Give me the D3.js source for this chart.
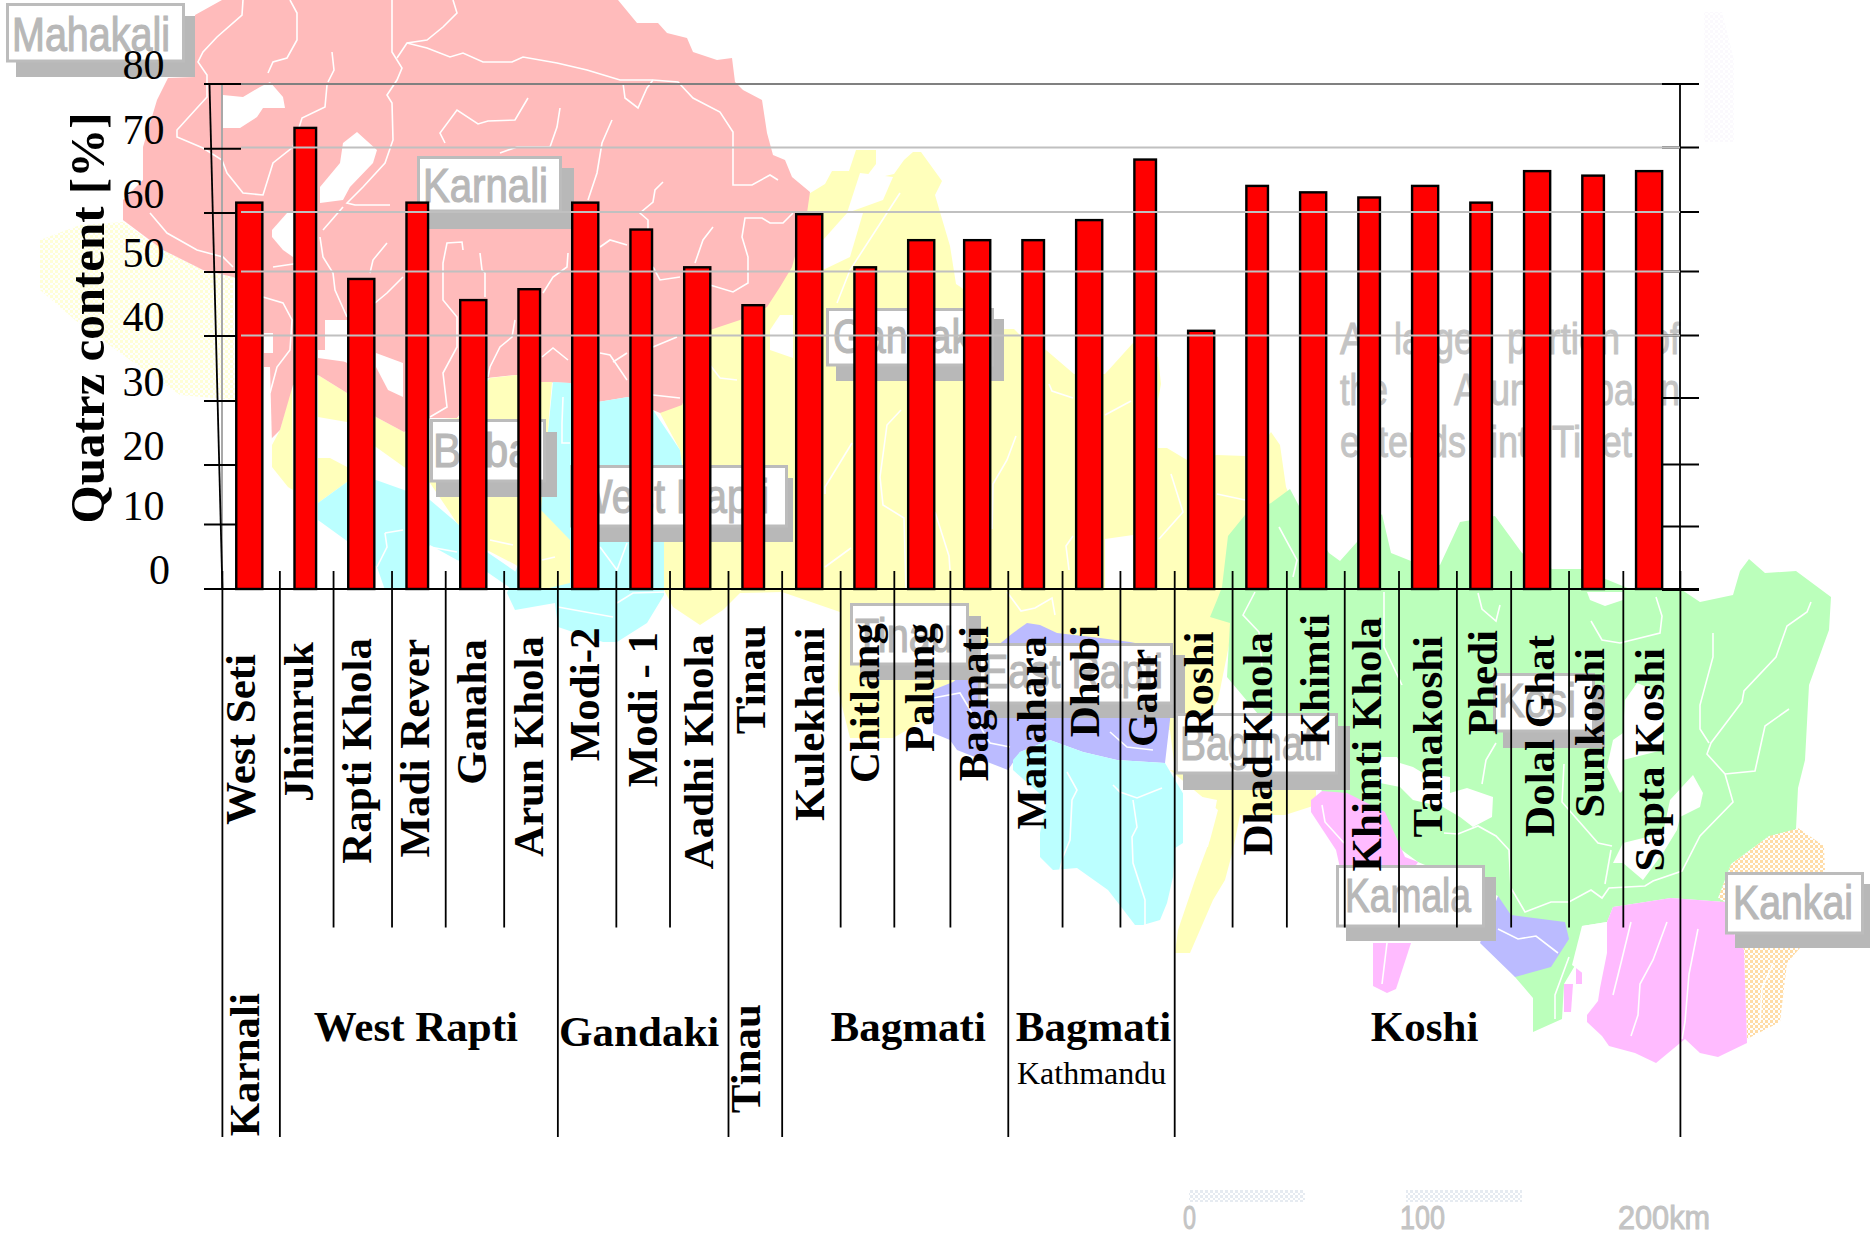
<!DOCTYPE html>
<html>
<head>
<meta charset="utf-8">
<title>Quartz content by river</title>
<script src="https://cdn.jsdelivr.net/npm/d3@7"></script>
<style>
  html, body { margin: 0; padding: 0; background: #fff; }
  svg { display: block; }
</style>
</head>
<body>
<div id="chart"></div>
<script>
// chart data
const categories = ['West Seti', 'Jhimruk', 'Rapti Khola', 'Madi Rever', 'Ganaha', 'Arun Khola', 'Modi-2', 'Modi - 1',
  'Aadhi Khola', 'Tinau', 'Kulekhani', 'Chitlang', 'Palung', 'Bagmati', 'Manahara', 'Dhobi', 'Gaur', 'Roshi',
  'Dhad Khola', 'Khimti', 'Khimti Khola', 'Tamakoshi', 'Phedi', 'Dolal Ghat', 'Sunkoshi', 'Sapta Koshi'];
const quartz = [61.8, 73.4, 49.1, 61.8, 45.8, 47.5, 61.8, 57.4, 51, 45, 60, 51, 55.6, 55.6, 55.6, 59, 68.5, 41,
  64.4, 63.4, 62.6, 64.4, 61.8, 66.7, 66, 66.7];
const yTicks = [0, 10, 20, 30, 40, 50, 60, 70, 80];
const gridTicks = [40, 50, 60, 70, 80];
const groupNames = ['Karnali', 'West Rapti', 'Gandaki', 'Tinau', 'Bagmati', 'Bagmati', 'Koshi'];
const groupStarts = [0, 1, 6, 9, 10, 14, 17, 26];

// tick rows are not evenly spaced in the scan, so both y scales are piecewise
const tickRowsLeft = [589, 524.5, 465, 401, 336, 272, 213, 148.7, 84];
const tickRowsRight = [590, 526.5, 464.5, 398, 335.5, 271.5, 212, 147.5, 84];

// hand placement of the rotated river names
const labelDx = [6, 8, 10, 12, 13, 14, 14, 16, 16, 12, 15, 14, 13, 11, 13, 10, 12, 12, 15, 16, 12, 17, 16, 17, 11, 15];
const labelTop = [654, 642, 638, 639, 639, 636, 627.5, 632, 634, 625, 627.5, 623, 623, 626, 636, 625, 649, 631.5,
  632, 614, 617, 636, 630, 635, 648, 648];

// basin map behind the chart
const PINK = '#ffbbbb', YELLOW = '#ffffbb', CYAN = '#bbffff', GREEN = '#bbffbb', BLUE = '#bbbbff', MAGENTA = '#ffbbff';

const mapAreas = [
  // Gandaki and Bagmati
  [YELLOW, '807,195 825,184 832,171 849,171 856,150 876,150 876,164 863,181 894,174 904,160 913,152 921,152 942,181 935,195 940,212 950,246 956,284 962,288 993,329 1014,329 1021,336 1046,350 1074,374 1105,374 1133,343 1158,357 1161,384 1158,400 1158,448 1167,448 1187,460 1217,455 1245,456 1245,470 1271,432 1280,445 1286,487 1300,520 1300,600 1230,640 1218,700 1175,770 1170,730 1040,730 960,700 893,738 850,738 838,690 840,612 782,592 740,593 723,610 700,625 673,607 664,590 664,540 682,465 680,450 660,413 710,330'],
  [YELLOW, '1170,770 1316,790 1316,805 1285,815 1240,815 1233,850 1225,880 1213,900 1190,953 1175,953 1178,930 1195,880 1210,840 1218,810'],
  [YELLOW, '292,385 280,430 272,445 272,467 288,487 293,490'],
  [YELLOW, '318,375 347,393 376,417 404,432 430,440 430,483 404,467 376,447 347,422 318,417'],
  [YELLOW, '318,503 318,458 330,458 347,467 347,482'],
  // Karnali
  [PINK, '195,15 213,5 222,0 618,0 637,23 658,23 667,33 687,38 693,52 717,60 732,58 735,82 743,90 762,100 767,133 773,155 785,160 792,177 810,192 807,213 792,267 780,287 767,307 740,320 710,330 682,405 660,413 653,410 628,397 598,402 570,383 541,382 516,375 487,378 457,418 430,418 404,432 376,417 347,393 318,375 293,385 280,430 265,445 262,290 233,277 203,270 163,250 123,220 123,200 143,180 143,147 157,100 168,78 195,77'],
  // West Rapti and Babai
  [CYAN, '553,382 570,383 598,402 628,397 653,410 680,450 682,465 664,540 664,595 647,623 617,642 603,642 558,627 555,603 515,610 507,593 516,570 541,500'],
  [CYAN, '318,503 347,482 376,480 404,490 430,500 457,523 487,552 516,572 516,592 487,572 457,560 430,545 404,590 385,590 377,567 347,541 318,520'],
  [YELLOW, '458,418 490,378 516,375 541,382 552,382 541,510 570,540 570,583 541,590 516,565 487,550 457,523 430,483 430,420'],
  // Koshi
  [GREEN, '1222,587 1228,536 1245,515 1271,503 1290,489 1299,506 1329,553 1340,561 1382,514 1391,553 1411,561 1440,565 1460,522 1495,516 1522,553 1552,569 1581,569 1630,589 1682,590 1700,602 1733,595 1740,571 1749,559 1765,573 1796,571 1831,597 1829,630 1809,685 1805,760 1798,788 1796,829 1769,836 1731,864 1718,898 1725,902 1671,898 1613,907 1607,922 1582,926 1580,957 1564,984 1562,1019 1533,1032 1533,998 1515,977 1498,896 1418,862 1322,791 1263,720 1227,677 1230,623 1210,617 1217,600'],
  [MAGENTA, '1322,791 1347,793 1385,812 1405,857 1418,862 1400,890 1345,890 1336,850 1311,812 1311,800'],
  [MAGENTA, '1373,943 1411,943 1396,989 1387,993 1373,986'],
  [MAGENTA, '1613,907 1671,898 1725,902 1735,936 1744,950 1747,1043 1718,1057 1700,1053 1685,1039 1656,1063 1635,1053 1609,1046 1602,1036 1587,1022 1587,1015 1598,1001 1600,988 1607,953 1607,922'],
  [MAGENTA, '1564,984 1573,984 1571,1012 1564,1012'],
  [MAGENTA, '1576,957 1582,957 1582,984 1576,984'],
  [BLUE, '1498,896 1511,915 1565,922 1569,939 1551,967 1515,977 1480,943'],
  // East Rapti and Kathmandu valley
  [BLUE, '933,690 953,682 1013,633 1027,623 1040,625 1057,633 1100,638 1130,642 1172,650 1170,720 1165,763 1117,760 1083,752 1050,740 1020,752 1008,770 990,763 957,750 950,740 933,733'],
  [CYAN, '1013,760 1020,752 1050,740 1083,752 1117,760 1165,763 1175,780 1187,800 1183,843 1175,848 1173,877 1167,903 1160,920 1143,925 1135,925 1122,908 1108,890 1077,868 1053,870 1040,857 1040,833 1047,800 1013,770'],
  // bare patches
  ['#fff', '223,95 243,97 260,87 270,82 283,97 285,108 263,108 257,117 240,128 223,128'],
  ['#fff', '357,132 377,150 373,163 350,187 343,200 320,203 320,187 340,163 343,143'],
  ['#fff', '272,230 287,213 293,213 293,257 283,250 272,237'],
  ['#fff', '325,320 347,320 347,363 325,350'],
  ['#fff', '376,353 403,363 403,397 388,390 376,367'],
  ['#fff', '318,350 347,350 347,362 318,358'],
  ['#fff', '264,333 273,333 273,353 264,353'],
  ['#fff', '264,367 270,367 272,445 264,447'],
  ['#fff', '823,240 847,213 863,213 850,257 823,270'],
  ['#fff', '860,173 893,177 883,200 847,213'],
  ['#fff', '770,330 780,315 793,315 793,358 770,350'],
  ['#fff', '1105,539 1133,535 1133,590 1105,590'],
  ['#fff', '1183,793 1217,800 1208,847 1183,847'],
  ['#fff', '1380,757 1397,757 1400,763 1413,767 1423,773 1450,777 1450,793 1467,788 1493,797 1492,817 1473,827 1460,817 1443,807 1413,800 1400,787 1380,783'],
  ['#fff', '1625,700 1637,683 1647,687 1663,700 1663,750 1623,760 1623,790 1620,793 1607,767 1613,740 1623,733'],
  ['#fff', '1670,800 1693,775 1703,793 1700,807 1680,817 1677,830 1663,853 1643,880 1623,863 1613,863 1623,843 1663,833'],
  ['#fff', '1587,592 1623,592 1623,600 1605,606 1590,600'],
  ['#fff', '1582,926 1607,922 1607,950 1585,975 1572,965']
];

const rivers = [
  '243,0 242,15 217,37 203,52 198,62 207,75 207,97 177,130 177,137 203,148 222,160 227,173 243,193 263,195 273,163 293,147 302,118 325,107 327,85',
  '290,0 297,13 297,40 287,58 273,62 268,73', '332,52 334,70 328,82',
  '392,0 392,52 402,68 397,80 387,95 392,103 393,140 385,163 363,187 347,203 355,205 390,205',
  '453,0 457,13 443,27 427,40 407,43 397,58',
  '407,43 427,48 450,57 463,53 483,62 512,62 523,57 557,63 587,70 620,80 653,80 678,82 693,98 720,112 733,132 733,185 752,185 770,175 778,180',
  '623,83 625,98 638,108 647,88 653,80', '528,98 515,120 488,121 478,124 457,110 440,133 445,143',
  '560,108 557,127 550,147 517,147 500,153', '612,120 602,143 597,173 588,200',
  '663,182 655,190 653,202 640,213 648,220 648,230', '713,227 703,240 695,263',
  '793,213 783,223 770,223 762,218 745,218 742,237 748,257 748,283 733,292 710,285',
  '600,247 610,240 627,245', '653,267 660,280 680,277', '568,253 567,267 553,277 543,293', '480,253 482,270 485,273 485,297',
  '463,250 462,242 447,243 443,263 443,300 457,317 457,347 443,373 447,407 430,417',
  '387,243 373,260 370,273', '403,277 387,293 375,303', '320,237 323,257 333,273 335,290 347,317', '323,230 343,207',
  '150,213 167,233 197,250 223,257 233,267', '263,297 283,303 292,320 290,350 277,367 270,393', '300,263 273,267',
  '515,320 512,337 500,347 490,367 488,377', '542,357 553,348 568,360', '600,353 610,355 627,380', '613,362 627,353',
  '653,347 677,337', '653,395 680,398', '710,365 720,378 737,380', '837,303 850,270 887,213 900,193',
  '901,410 887,425 880,477 883,505 904,518 906,589', '852,443 825,487 825,494', '851,548 825,567',
  '1016,436 1007,460 993,484 992,529', '1049,384 1052,391 1073,398', '1131,401 1105,415', '935,512 949,556 950,570',
  '1073,536 1066,546 1069,570', '1171,474 1183,512 1159,539', '1217,494 1245,500', '1279,527 1297,560 1293,577',
  '1255,592 1243,615 1259,632 1262,666', '1007,592 1021,611 1035,608 1052,598 1055,615',
  '933,698 960,693 990,743 1010,747', '1110,732 1127,747 1153,750',
  '1067,772 1077,790 1072,800 1070,840 1063,857 1060,870', '1113,785 1120,792 1137,798 1162,788',
  '1133,800 1137,827 1132,837 1133,863 1145,900 1145,925',
  '1811,602 1807,612 1787,626 1776,657 1744,691 1742,702 1711,743 1707,754 1725,774 1733,802 1700,836 1682,871 1653,881 1645,886 1609,888 1602,898 1591,890 1569,902 1551,902 1525,912 1511,888 1509,850 1496,836 1478,826 1458,834 1444,833',
  '1713,633 1713,657 1700,705 1700,729 1709,743', '1789,709 1765,726 1755,771 1725,774',
  '1591,621 1602,640 1620,643 1660,633 1662,616 1656,597', '1478,593 1482,609 1496,621 1500,605',
  '1496,743 1486,760 1482,784', '1611,850 1605,884', '1564,764 1562,802 1598,843 1612,846', '1384,592 1384,647 1402,685',
  '1631,922 1620,967 1613,995', '1667,922 1653,960 1640,984 1638,1015 1631,1036', '1698,929 1689,974 1685,1022 1682,1039',
  '1773,964 1762,988 1760,1022', '1387,943 1382,984', '1322,805 1325,822 1344,843',
  '1498,929 1518,939 1536,936 1558,953', '1569,957 1555,995 1555,1019',
  '385,533 387,547 377,567', '385,533 403,530', '430,547 457,552', '490,540 513,545', '542,560 555,557',
  '600,547 617,570 627,543', '617,603 633,593 665,592', '558,607 613,617', '563,397 562,423 562,443 570,443'
];

// grey basin name tags: box, shadow and text extents
const mapTags = [
  { name: 'Mahakali', box: [6, 3, 185, 61], shadow: [16, 16, 195, 77], x: 12, base: 51, w: 158 },
  { name: 'Karnali', box: [417, 156, 562, 211], shadow: [429, 168, 574, 229], x: 423, base: 202, w: 125 },
  { name: 'Babai', box: [430, 419, 546, 481], shadow: [436, 432, 557, 497], x: 433, base: 467, w: 108 },
  { name: 'West Rapti', box: [570, 465, 788, 526], shadow: [580, 478, 793, 542], x: 575, base: 513, w: 194 },
  { name: 'Gandaki', box: [826, 308, 994, 365], shadow: [836, 319, 1004, 381], x: 833, base: 353, w: 147 },
  { name: 'Tinau', box: [850, 603, 969, 664], shadow: [860, 616, 981, 680], x: 855, base: 652, w: 98 },
  { name: 'East Rapti', box: [978, 643, 1173, 703], shadow: [990, 655, 1185, 718], x: 982, base: 688, w: 181 },
  { name: 'Bagmati', box: [1175, 713, 1338, 773], shadow: [1183, 726, 1350, 790], x: 1180, base: 760, w: 143 },
  { name: 'Kosi', box: [1493, 673, 1595, 731], shadow: [1503, 685, 1605, 748], x: 1498, base: 717, w: 78 },
  { name: 'Kamala', box: [1336, 865, 1485, 926], shadow: [1346, 877, 1496, 941], x: 1345, base: 912, w: 126 },
  { name: 'Kankai', box: [1725, 872, 1864, 933], shadow: [1735, 884, 1870, 948], x: 1733, base: 919, w: 120 }
];

const tibetNote = [
  { t: 'A', x: 1340, base: 354, w: 25 }, { t: 'large', x: 1394, base: 354, w: 80 }, { t: 'portion', x: 1507, base: 354, w: 113 }, { t: 'of', x: 1650, base: 354, w: 30 },
  { t: 'the', x: 1340, base: 405, w: 48 }, { t: 'Arun', x: 1454, base: 405, w: 76 }, { t: 'basin', x: 1594, base: 405, w: 86 },
  { t: 'extends', x: 1340, base: 457, w: 126 }, { t: 'into', x: 1490, base: 457, w: 58 }, { t: 'Tibet', x: 1552, base: 457, w: 80 }
];

const scaleBarLabels = [{ t: '0', x: 1183, w: 13 }, { t: '100', x: 1400, w: 45 }, { t: '200km', x: 1618, w: 92 }];

const width = 1870, height = 1234;
const serif = '"Liberation Serif", "Times New Roman", serif';
const narrow = '"Liberation Sans Narrow", "Liberation Sans", sans-serif';

const svg = d3.select('#chart').append('svg')
  .attr('width', width)
  .attr('height', height)
  .attr('viewBox', `0 0 ${width} ${height}`);

// dithered fills for the pale map areas
const defs = svg.append('defs');
function dither(id, color) {
  const p = defs.append('pattern').attr('id', id).attr('width', 5).attr('height', 5).attr('patternUnits', 'userSpaceOnUse');
  p.append('rect').attr('width', 5).attr('height', 5).attr('fill', '#fff');
  p.append('rect').attr('width', 3).attr('height', 3).attr('fill', color);
  p.append('rect').attr('x', 3).attr('y', 3).attr('width', 2).attr('height', 2).attr('fill', color);
}
dither('ditherYellow', '#ffffd8');
dither('ditherOrange', '#ffdca6');
dither('ditherLilac', '#fbf9fd');
dither('ditherScale', '#e6ebf1');

const x = d3.scaleBand().domain(categories).range([221.3, 1677.1]).paddingInner(0.5).paddingOuter(0.25);
const xCenter = d => x(d) + x.bandwidth() / 2;
const xEdge = d3.scaleLinear().domain([0, categories.length]).range([222.4, 1680.4]);
const y = d3.scaleLinear().domain(yTicks).range(tickRowsLeft);
const yRight = d3.scaleLinear().domain(yTicks).range(tickRowsRight);

// separators sit on a slightly uneven raster in the original
const sepX = k => {
  if (k === 0 || k === categories.length) return xEdge(k);
  return xEdge(k) + (k % 2 ? (k < 13 ? 1.4 : -1) : (k < 13 ? -1 : 0.8));
};
// so do the bars, alternately wide and narrow
const barW = i => ((i <= 12 ? i % 2 === 0 : i % 2 === 1) ? 28.5 : 24);

// map
const map = svg.append('g').attr('class', 'map');
map.append('polygon')
  .attr('points', '80,225 123,222 163,250 203,270 233,277 235,400 180,395 130,360 75,320 40,290 40,240')
  .attr('fill', 'url(#ditherYellow)');
map.append('polygon')
  .attr('points', '1704,12 1722,12 1734,60 1734,142 1704,142')
  .attr('fill', 'url(#ditherLilac)');
map.append('polygon')
  .attr('points', '1773,831 1798,828 1824,846 1825,870 1825,930 1800,948 1787,963 1780,1022 1747,1039 1744,950 1718,898 1731,864 1769,836')
  .attr('fill', 'url(#ditherOrange)');
map.selectAll('polygon.area')
  .data(mapAreas)
  .enter().append('polygon')
  .attr('class', 'area')
  .attr('points', d => d[1])
  .attr('fill', d => d[0]);
map.selectAll('polyline.river')
  .data(rivers)
  .enter().append('polyline')
  .attr('class', 'river')
  .attr('points', d => d)
  .attr('fill', 'none')
  .attr('stroke', '#fff')
  .attr('stroke-width', 1.6);

// tags on the map
const tag = map.selectAll('g.tag').data(mapTags).enter().append('g').attr('class', 'tag');
tag.append('rect')
  .attr('x', d => d.shadow[0]).attr('y', d => d.shadow[1])
  .attr('width', d => d.shadow[2] - d.shadow[0]).attr('height', d => d.shadow[3] - d.shadow[1])
  .attr('fill', '#b8b8b8');
tag.append('rect')
  .attr('x', d => d.box[0] + 1.5).attr('y', d => d.box[1] + 1.5)
  .attr('width', d => d.box[2] - d.box[0] - 3).attr('height', d => d.box[3] - d.box[1] - 1.5)
  .attr('fill', '#fff').attr('stroke', '#bcbcbc').attr('stroke-width', 3);
tag.append('text')
  .attr('x', d => d.x).attr('y', d => d.base)
  .attr('textLength', d => d.w).attr('lengthAdjust', 'spacingAndGlyphs')
  .attr('font-family', narrow).attr('font-size', 48).attr('fill', '#b8b8b8')
  .attr('stroke', '#b8b8b8').attr('stroke-width', 1.2)
  .text(d => d.name);

map.selectAll('text.note')
  .data(tibetNote)
  .enter().append('text')
  .attr('class', 'note')
  .attr('x', d => d.x).attr('y', d => d.base)
  .attr('textLength', d => d.w).attr('lengthAdjust', 'spacingAndGlyphs')
  .attr('font-family', narrow).attr('font-size', 44).attr('fill', '#c4c4c4')
  .attr('stroke', '#c4c4c4').attr('stroke-width', 1)
  .text(d => d.t);

// scale bar of the map
map.selectAll('rect.scaleBar')
  .data(scaleBarLabels.slice(0, 2))
  .enter().append('rect')
  .attr('class', 'scaleBar')
  .attr('x', d => d.x + 6).attr('y', 1190)
  .attr('width', 116).attr('height', 12)
  .attr('fill', 'url(#ditherScale)');
map.selectAll('text.scaleLabel')
  .data(scaleBarLabels)
  .enter().append('text')
  .attr('class', 'scaleLabel')
  .attr('x', d => d.x).attr('y', 1229)
  .attr('textLength', d => d.w).attr('lengthAdjust', 'spacingAndGlyphs')
  .attr('font-family', narrow).attr('font-size', 33).attr('fill', '#c4c4c4')
  .attr('stroke', '#c4c4c4').attr('stroke-width', 1)
  .text(d => d.t);

// axis frame
const chart = svg.append('g').attr('class', 'chart');
chart.append('line')
  .attr('x1', 222).attr('x2', 222).attr('y1', y(80)).attr('y2', y(0))
  .attr('stroke', '#a8a8a8').attr('stroke-width', 2);
chart.append('line')
  .attr('x1', 209.5).attr('x2', 222.4).attr('y1', y(80)).attr('y2', y(0))
  .attr('stroke', '#000').attr('stroke-width', 1.8);
chart.append('line')
  .attr('x1', 1680).attr('x2', 1680).attr('y1', y(80)).attr('y2', y(0))
  .attr('stroke', '#000').attr('stroke-width', 1.8);

chart.selectAll('line.tickLeft')
  .data(yTicks)
  .enter().append('line')
  .attr('class', 'tickLeft')
  .attr('x1', 204).attr('x2', 241)
  .attr('y1', d => y(d)).attr('y2', d => y(d))
  .attr('stroke', '#000').attr('stroke-width', 2);
chart.selectAll('line.tickRight')
  .data(yTicks)
  .enter().append('line')
  .attr('class', 'tickRight')
  .attr('x1', 1662).attr('x2', 1699)
  .attr('y1', d => yRight(d)).attr('y2', d => yRight(d))
  .attr('stroke', '#000').attr('stroke-width', 2);

chart.selectAll('text.yLabel')
  .data(yTicks)
  .enter().append('text')
  .attr('class', 'yLabel')
  .attr('x', d => (d === 0 ? 170 : 164.5))
  .attr('y', d => y(d) - 5)
  .attr('text-anchor', 'end')
  .attr('font-family', serif).attr('font-size', 42).attr('fill', '#000')
  .text(d => d);

chart.append('text')
  .attr('transform', 'translate(104,318) rotate(-90)')
  .attr('text-anchor', 'middle')
  .attr('font-family', serif).attr('font-size', 49).attr('font-weight', 700).attr('fill', '#000')
  .text('Quatrz content [%]');

// separators under the axis
const longSeps = new Set(groupStarts);
chart.selectAll('line.sep')
  .data(d3.range(categories.length + 1))
  .enter().append('line')
  .attr('class', 'sep')
  .attr('x1', sepX).attr('x2', sepX)
  .attr('y1', 571)
  .attr('y2', k => (longSeps.has(k) ? 1137 : 927.5))
  .attr('stroke', '#000').attr('stroke-width', 1.8);

// bars
chart.selectAll('rect.bar')
  .data(quartz)
  .enter().append('rect')
  .attr('class', 'bar')
  .attr('x', (d, i) => xCenter(categories[i]) - barW(i) / 2 + 1.2)
  .attr('width', (d, i) => barW(i) - 2.4)
  .attr('y', d => y(d) + 1.2)
  .attr('height', d => y(0) - y(d) - 1.2)
  .attr('fill', '#ff0000')
  .attr('stroke', '#000')
  .attr('stroke-width', 2.4);

// gridlines run over the bars, and only the upper half has them
chart.selectAll('line.grid')
  .data(gridTicks)
  .enter().append('line')
  .attr('class', 'grid')
  .attr('x1', 241)
  .attr('x2', d => (d === 80 ? 1662 : 1680))
  .attr('y1', d => yRight(d)).attr('y2', d => yRight(d))
  .attr('stroke', d => (d === 80 ? '#808080' : '#c0c0c0'))
  .attr('stroke-width', 2);

chart.append('line')
  .attr('x1', 204).attr('x2', 1699)
  .attr('y1', y(0)).attr('y2', y(0))
  .attr('stroke', '#000').attr('stroke-width', 2.2);

// river names
chart.selectAll('text.category')
  .data(categories)
  .enter().append('text')
  .attr('class', 'category')
  .attr('transform', (d, i) => `translate(${xCenter(d) + labelDx[i]},${labelTop[i]}) rotate(-90)`)
  .attr('text-anchor', 'end')
  .attr('font-family', serif).attr('font-size', 43).attr('font-weight', 700).attr('fill', '#000')
  .text(d => d);

// basin names, Karnali and Tinau are too narrow and stand on end
const groupDx = [0, -3, -4, 0, 13, 2, -3];
chart.selectAll('text.group')
  .data(groupNames)
  .enter().append('text')
  .attr('class', 'group')
  .attr('transform', (d, i) => {
    const cx = (sepX(groupStarts[i]) + sepX(groupStarts[i + 1])) / 2;
    if (d === 'Karnali') return 'translate(259,993) rotate(-90)';
    if (d === 'Tinau') return 'translate(760,1004) rotate(-90)';
    return `translate(${cx + groupDx[i]},${d === 'Gandaki' ? 1046 : 1041})`;
  })
  .attr('text-anchor', d => (d === 'Karnali' || d === 'Tinau' ? 'end' : 'middle'))
  .attr('font-family', serif).attr('font-size', 43).attr('font-weight', 700).attr('fill', '#000')
  .text(d => d);

chart.append('text')
  .attr('x', 1017).attr('y', 1084)
  .attr('font-family', serif).attr('font-size', 32).attr('fill', '#000')
  .text('Kathmandu');
</script>
</body>
</html>
